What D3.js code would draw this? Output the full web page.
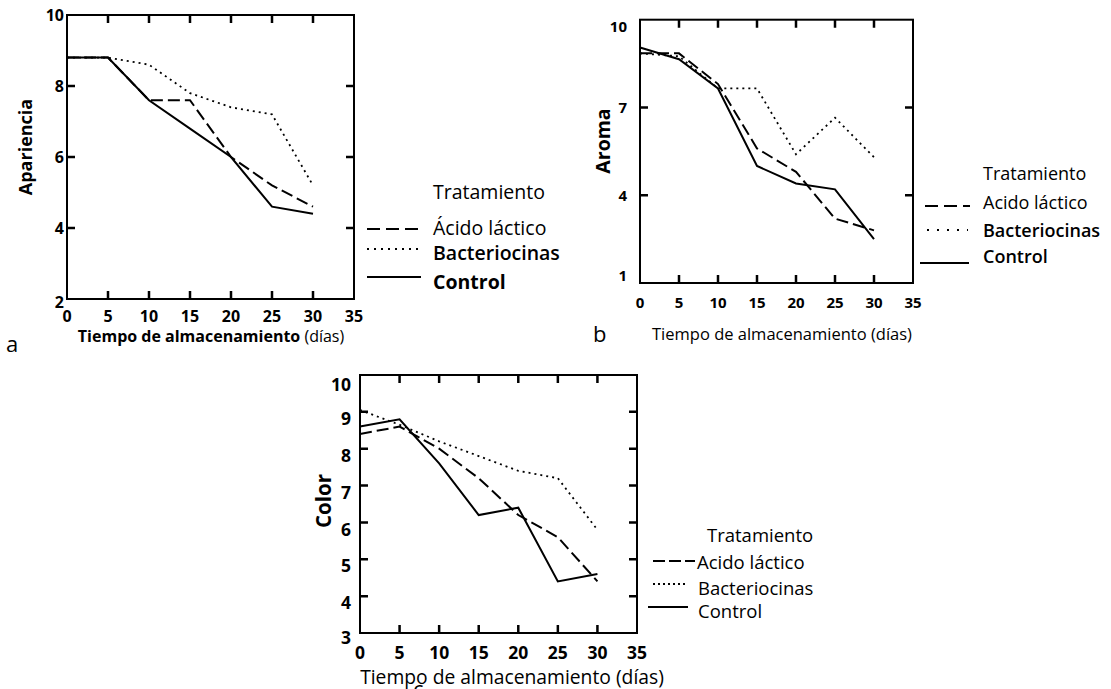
<!DOCTYPE html>
<html>
<head>
<meta charset="utf-8">
<script src="https://cdn.jsdelivr.net/npm/d3@7"></script>
<style>
  body { margin: 0; background: #fff; }
  svg { display: block; font-family: "Open Sans", "Noto Sans", sans-serif; }
</style>
</head>
<body>
<svg id="chart" width="1111" height="689"></svg>
<script>
// storage days (x values shared by all panels)
const days = [0, 5, 10, 15, 20, 25, 30];
const xTicks = [0, 5, 10, 15, 20, 25, 30, 35];
const treatments = ["Ácido láctico", "Bacteriocinas", "Control"];

// panel a: Apariencia
const aparienciaAcido = [8.8, 8.8, 7.6, 7.6, 6.0, 5.2, 4.6];
const aparienciaBact = [8.8, 8.8, 8.6, 7.8, 7.4, 7.2, 5.2];
const aparienciaControl = [8.8, 8.8, 7.6, 6.8, 6.0, 4.6, 4.4];
const aparienciaTicks = [2, 4, 6, 8, 10];

// panel b: Aroma
const aromaAcido = [8.85, 8.85, 7.8, 5.6, 4.8, 3.2, 2.8];
const aromaBact = [8.85, 8.75, 7.65, 7.65, 5.4, 6.65, 5.3];
const aromaControl = [9.05, 8.65, 7.65, 5.0, 4.4, 4.2, 2.5];
const aromaTicks = [1, 4, 7, 10];

// panel c: Color
const colorAcido = [8.4, 8.6, 8.0, 7.2, 6.2, 5.6, 4.4];
const colorBact = [9.05, 8.65, 8.2, 7.8, 7.4, 7.2, 5.8];
const colorControl = [8.6, 8.8, 7.6, 6.2, 6.4, 4.4, 4.6];
const colorTicks = [3, 4, 5, 6, 7, 8, 9, 10];

const svg = d3.select("#chart");
const TICK = 8;

// line styles per treatment
const styles = {
    "Ácido láctico": { dash: "12,5", width: 2 },
    "Bacteriocinas": { dash: "2,4", width: 1.8 },
    "Control": { dash: null, width: 2 }
};

function drawPanel(p) {
    const x = d3.scaleLinear().domain([0, 35]).range([p.left, p.right]);
    const y = d3.scaleLinear().domain(p.yDomain).range([p.bottom, p.top]);
    const g = svg.append("g");

    const innerX = xTicks.filter(d => d > 0 && d < 35);
    const innerY = p.yTicks.filter(d => d > p.yDomain[0] && d < p.yDomain[1]);

    // frame
    g.append("rect")
        .attr("x", p.left).attr("y", p.top)
        .attr("width", p.right - p.left).attr("height", p.bottom - p.top)
        .attr("fill", "none").attr("stroke", "#000").attr("stroke-width", 2);

    // inward ticks on all four sides, as one path
    const tp = d3.path();
    innerX.forEach(d => {
        tp.moveTo(x(d), p.bottom); tp.lineTo(x(d), p.bottom - TICK);
        tp.moveTo(x(d), p.top); tp.lineTo(x(d), p.top + TICK);
    });
    innerY.forEach(d => {
        tp.moveTo(p.left, y(d)); tp.lineTo(p.left + TICK, y(d));
        tp.moveTo(p.right, y(d)); tp.lineTo(p.right - TICK, y(d));
    });
    g.append("path")
        .attr("class", "ticks")
        .attr("d", tp.toString())
        .attr("fill", "none")
        .attr("stroke", "#000")
        .attr("stroke-width", 2.5);

    // tick labels
    g.selectAll(null).data(xTicks).enter().append("text")
        .attr("x", d => x(d)).attr("y", p.xLabelY)
        .attr("text-anchor", "middle")
        .attr("dominant-baseline", "central")
        .attr("font-size", p.tickSize).attr("font-weight", "bold")
        .text(d => d);
    g.selectAll(null).data(p.yTicks).enter().append("text")
        .attr("x", p.yLabelX).attr("y", d => y(d) + (p.yLabelDy[d] || 0))
        .attr("text-anchor", "end")
        .attr("dominant-baseline", "central")
        .attr("font-size", p.tickSize).attr("font-weight", "bold")
        .text(d => d);

    // series lines
    const line = d3.line().x((d, i) => x(days[i])).y(d => y(d));
    p.series.forEach((vals, i) => {
        const st = styles[treatments[i]];
        g.append("path")
            .datum(vals)
            .attr("d", line)
            .attr("fill", "none")
            .attr("stroke", "#000")
            .attr("stroke-width", st.width)
            .attr("stroke-dasharray", st.dash);
    });

    // y axis title
    g.append("text")
        .attr("transform", `translate(${p.yTitleX},${p.yTitleY}) rotate(-90)`)
        .attr("text-anchor", "middle")
        .attr("dominant-baseline", "central")
        .attr("font-size", p.yTitleSize)
        .attr("font-weight", "bold")
        .text(p.yTitle);

    // x axis title
    const xt = g.append("text")
        .attr("x", p.xTitleX).attr("y", p.xTitleY)
        .attr("text-anchor", "middle")
        .attr("dominant-baseline", "central")
        .attr("font-size", p.xTitleSize);
    xt.append("tspan").attr("font-weight", p.xTitleBold ? "bold" : "normal").text("Tiempo de almacenamiento");
    xt.append("tspan").text(" (días)");

    // panel letter
    g.append("text")
        .attr("x", p.letterX).attr("y", p.letterY)
        .attr("font-size", 22)
        .text(p.letter);

    // legend
    const lg = g.append("g");
    lg.append("text")
        .attr("x", p.legend.titleX).attr("y", p.legend.titleY)
        .attr("dominant-baseline", "central")
        .attr("font-size", p.legend.size)
        .text("Tratamiento");
    p.legend.rows.forEach((r, i) => {
        const st = styles[treatments[i]];
        lg.append("line")
            .attr("x1", r.x1).attr("x2", r.x2).attr("y1", r.ly).attr("y2", r.ly)
            .attr("stroke", "#000")
            .attr("stroke-width", st.width)
            .attr("stroke-dasharray", i === 1 ? p.legend.dotDash : (i === 0 ? p.legend.dash : null));
        lg.append("text")
            .attr("x", r.tx).attr("y", r.ty)
            .attr("dominant-baseline", "central")
            .attr("font-size", p.legend.size)
            .attr("font-weight", r.weight)
            .text(p.legend.labels[i]);
    });
}

drawPanel({
    left: 67, right: 354, top: 15, bottom: 299,
    yDomain: [2, 10], yTicks: aparienciaTicks,
    series: [aparienciaAcido, aparienciaBact, aparienciaControl],
    tickSize: 16, xLabelY: 316, yLabelX: 64, yLabelDy: { 2: 3 },
    yTitle: "Apariencia", yTitleX: 25, yTitleY: 147, yTitleSize: 18,
    xTitleX: 211, xTitleY: 336, xTitleSize: 16, xTitleBold: true,
    letter: "a", letterX: 6, letterY: 352,
    legend: {
        titleX: 433, titleY: 191, size: 19.5, dash: "13,6", dotDash: "2,5",
        labels: ["Ácido láctico", "Bacteriocinas", "Control"],
        rows: [
            { x1: 367, x2: 423, ly: 229, tx: 433, ty: 227, weight: 500 },
            { x1: 367, x2: 423, ly: 249, tx: 433, ty: 252, weight: 600 },
            { x1: 367, x2: 421, ly: 277, tx: 433, ty: 281, weight: "bold" }
        ]
    }
});

drawPanel({
    left: 640, right: 913, top: 19.7, bottom: 283,
    yDomain: [1, 10], yTicks: aromaTicks,
    series: [aromaAcido, aromaBact, aromaControl],
    tickSize: 15, xLabelY: 302, yLabelX: 627, yLabelDy: { 10: 6, 1: -8 },
    yTitle: "Aroma", yTitleX: 602, yTitleY: 141, yTitleSize: 19.5,
    xTitleX: 782, xTitleY: 333, xTitleSize: 16.5, xTitleBold: false,
    letter: "b", letterX: 593, letterY: 342,
    legend: {
        titleX: 983, titleY: 173, size: 18, dash: "13,6", dotDash: "2,8",
        labels: ["Acido láctico", "Bacteriocinas", "Control"],
        rows: [
            { x1: 925, x2: 970, ly: 206, tx: 983, ty: 202, weight: "normal" },
            { x1: 927, x2: 968, ly: 230, tx: 983, ty: 230, weight: 600 },
            { x1: 920, x2: 969, ly: 263, tx: 983, ty: 256, weight: 600 }
        ]
    }
});

drawPanel({
    left: 360, right: 637, top: 375, bottom: 633,
    yDomain: [3, 10], yTicks: colorTicks,
    series: [colorAcido, colorBact, colorControl],
    tickSize: 17.5, xLabelY: 652, yLabelX: 351,
    yLabelDy: { 3: 4, 4: 6, 5: 6, 6: 7, 7: 6, 8: 6, 9: 6, 10: 9 },
    yTitle: "Color", yTitleX: 323, yTitleY: 501, yTitleSize: 20.5,
    xTitleX: 512, xTitleY: 676, xTitleSize: 19.3, xTitleBold: false,
    letter: "c", letterX: 413, letterY: 697,
    legend: {
        titleX: 707, titleY: 534, size: 18.5, dash: "12,4", dotDash: "2,3",
        labels: ["Acido láctico", "Bacteriocinas", "Control"],
        rows: [
            { x1: 653, x2: 695, ly: 561, tx: 697, ty: 561, weight: "normal" },
            { x1: 653, x2: 688, ly: 584, tx: 698, ty: 587, weight: "normal" },
            { x1: 648, x2: 688, ly: 607, tx: 698, ty: 610, weight: "normal" }
        ]
    }
});
</script>
</body>
</html>
